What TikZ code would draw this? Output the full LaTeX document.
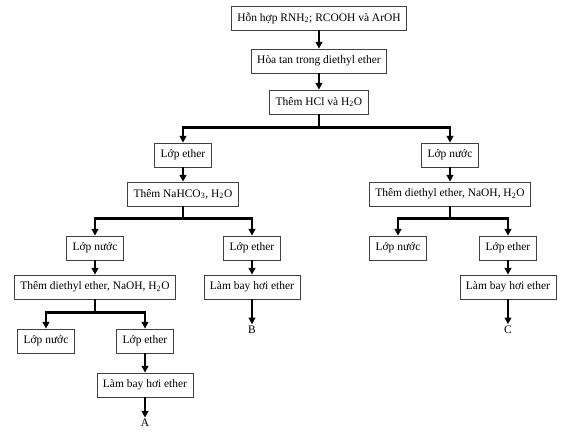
\documentclass[tikz,border=0pt]{standalone}
\usepackage{fontspec}
\setmainfont{Liberation Serif}
\usetikzlibrary{positioning, arrows.meta}

\begin{document}
\begin{tikzpicture}[on grid, font=\fontsize{8.6}{10.5}\selectfont,
                    box/.style={draw=black!75, line width=0.6pt, minimum height=18pt, inner xsep=4.5pt},
                    flow/.style={-{Triangle[length=5pt, width=5pt]}, line width=1.9pt},
                    result/.style={inner sep=1pt}]
    \useasboundingbox (-239.25pt,13.5pt) rectangle (185.25pt,-309.75pt);

    % Main column
    \node[box] (mix) {Hỗn hợp RNH\textsubscript{2}; RCOOH và ArOH};
    \node[box] (diss) [below=32.25pt of mix] {Hòa tan trong diethyl ether};
    \node[box] (hcl) [below=30.75pt of diss] {Thêm HCl và H\textsubscript{2}O};

    % Ether layer branch
    \node[box] (eth1) [below left=39.75pt and 102pt of hcl] {Lớp ether};
    \node[box] (bicarb) [below=29.25pt of eth1] {Thêm NaHCO\textsubscript{3}, H\textsubscript{2}O};
    \node[box] (aq2) [below left=40.5pt and 66pt of bicarb] {Lớp nước};
    \node[box] (eth2) [below right=40.5pt and 51.75pt of bicarb] {Lớp ether};
    \node[box] (base1) [below=29.25pt of aq2] {Thêm diethyl ether, NaOH, H\textsubscript{2}O};
    \node[box] (evap1) [below=29.25pt of eth2] {Làm bay hơi ether};
    \node[result] (B) [below=32pt of evap1] {B};
    \node[box] (aq3) [below left=40.5pt and 36.75pt of base1] {Lớp nước};
    \node[box] (eth3) [below right=40.5pt and 37.5pt of base1] {Lớp ether};
    \node[box] (evap2) [below=33pt of eth3] {Làm bay hơi ether};
    \node[result] (A) [below=28.5pt of evap2] {A};

    % Aqueous layer branch
    \node[box] (aq1) [below right=39.75pt and 98.25pt of hcl] {Lớp nước};
    \node[box] (base2) [below=29.25pt of aq1] {Thêm diethyl ether, NaOH, H\textsubscript{2}O};
    \node[box] (aq4) [below left=40.5pt and 39pt of base2] {Lớp nước};
    \node[box] (eth4) [below right=40.5pt and 43.5pt of base2] {Lớp ether};
    \node[box] (evap3) [below=29.25pt of eth4] {Làm bay hơi ether};
    \node[result] (C) [below=32pt of evap3] {C};

    % Straight arrows
    \draw[flow] (mix) -- (diss);
    \draw[flow] (diss) -- (hcl);
    \draw[flow] (eth1) -- (bicarb);
    \draw[flow] (aq2) -- (base1);
    \draw[flow] (eth2) -- (evap1);
    \draw[flow] (evap1) -- (B);
    \draw[flow] (eth3) -- (evap2);
    \draw[flow] (evap2) -- (A);
    \draw[flow] (aq1) -- (base2);
    \draw[flow] (eth4) -- (evap3);
    \draw[flow] (evap3) -- (C);

    % Split arrows
    \draw[flow] (hcl.south) -- ++(0,-9.75pt) -| (eth1.north);
    \draw[flow] (hcl.south) -- ++(0,-9.75pt) -| (aq1.north);
    \draw[flow] (bicarb.south) -- ++(0,-9pt) -| (aq2.north);
    \draw[flow] (bicarb.south) -- ++(0,-9pt) -| (eth2.north);
    \draw[flow] (base1.south) -- ++(0,-9.75pt) -| (aq3.north);
    \draw[flow] (base1.south) -- ++(0,-9.75pt) -| (eth3.north);
    \draw[flow] (base2.south) -- ++(0,-9pt) -| (aq4.north);
    \draw[flow] (base2.south) -- ++(0,-9pt) -| (eth4.north);
\end{tikzpicture}
\end{document}
